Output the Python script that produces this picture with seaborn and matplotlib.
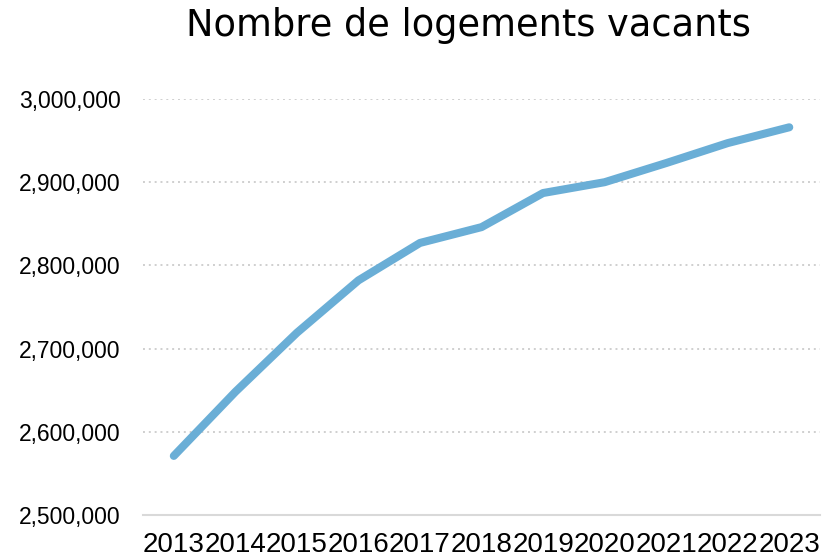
import matplotlib.pyplot as plt
import matplotlib.ticker as mticker
import pandas as pd
import seaborn as sns

# Data
years = [2013, 2014, 2015, 2016, 2017, 2018, 2019, 2020, 2021, 2022, 2023]
vacants = [2571000, 2648000, 2719000, 2782000, 2827000, 2846000,
           2887000, 2900000, 2923000, 2947000, 2966000]
y_ticks = [2500000, 2600000, 2700000, 2800000, 2900000, 3000000]

df = pd.DataFrame({'Année': years, 'Logements vacants': vacants})

sns.set_theme(style='white')
plt.rcParams['font.family'] = ['Liberation Sans', 'DejaVu Sans']

fig = plt.figure(figsize=(8.23, 5.60), dpi=100)
ax = fig.add_axes([0.1738, 0.0804, 0.8226, 0.7428])

sns.lineplot(data=df, x='Année', y='Logements vacants', ax=ax,
             color='#6aaed6', linewidth=5.8, solid_capstyle='round',
             solid_joinstyle='round')

ax.set_xlim(years[0] - 0.5, years[-1] + 0.5)
ax.set_ylim(y_ticks[0], y_ticks[-1])
ax.set_xticks(years)
ax.set_xticklabels([str(y) for y in years], fontsize=20, color='black')
ax.set_yticks(y_ticks)
ax.yaxis.set_major_formatter(mticker.FuncFormatter(lambda v, p: f'{int(v):,}'))
ax.tick_params(axis='y', labelsize=16.5, pad=16, length=0, colors='black')
ax.tick_params(axis='x', pad=12, length=0, colors='black')
ax.set_xlabel('')
ax.set_ylabel('')

# dotted horizontal gridlines
ax.grid(False)
for v in y_ticks[1:]:
    ax.axhline(v, color='#cfcfcf', linewidth=1.4, linestyle=(0, (1, 2)), zorder=0)

for s in ['top', 'right', 'left']:
    ax.spines[s].set_visible(False)
ax.spines['bottom'].set_color('#d9d9d9')
ax.spines['bottom'].set_linewidth(1.5)

fig.text(468 / 823, 1 - 25 / 560, 'Nombre de logements vacants',
         ha='center', va='center', fontsize=26.5, family=['DejaVu Sans'],
         color='black')

fig.savefig('out.png', dpi=100)
